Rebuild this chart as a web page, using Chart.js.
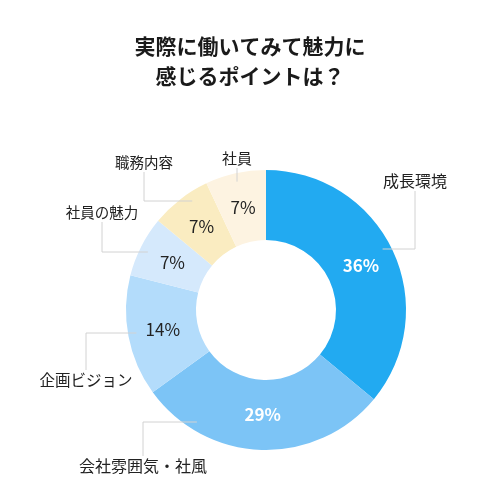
<!DOCTYPE html>
<html lang="ja">
<head>
  <meta charset="UTF-8">
  <script src="https://cdn.jsdelivr.net/npm/chart.js"></script>
  <title>魅力に感じるポイント</title>
  <style>
    body { margin: 0; background: #fff; }
    #wrap { width: 500px; height: 500px; }
  </style>
</head>
<body>
  <div id="wrap"><canvas id="myChart"></canvas></div>
<script>
  const titulo = ['実際に働いてみて魅力に', '感じるポイントは？'];
  const categorias = ['成長環境', '会社雰囲気・社風', '企画ビジョン', '社員の魅力', '職務内容', '社員'];
  const valores = [36, 29, 14, 7, 7, 7];
  const cores = ['#22aaf1', '#7cc4f6', '#b3dcfb', '#d5e9fc', '#faecc1', '#fdf3e1'];
  const corTexto = ['#ffffff', '#ffffff', '#222222', '#222222', '#222222', '#222222'];

  // posição dos rótulos relativa ao centro (tx, ty), altura da linha horizontal (hy) e tamanho da fonte
  const guias = [
    { tx: 149, ty: -129, hy: -61, fs: 16 },
    { tx: -123, ty: 156, hy: 112, fs: 16 },
    { tx: -180, ty: 70, hy: 23, fs: 15.5 },
    { tx: -164, ty: -98, hy: -58, fs: 14.5 },
    { tx: -122, ty: -148, hy: -109, fs: 14.5 },
    { tx: -29, ty: -152, hy: null, fs: 15 }
  ];

  const fonte = '"Noto Sans CJK JP", "Noto Sans", sans-serif';

  const rotulos = {
    id: 'rotulos',
    afterDraw(chart) {
      const ctx = chart.ctx;
      const meta = chart.getDatasetMeta(0);
      const cx = meta.data[0].x;
      const cy = meta.data[0].y;
      const R = meta.data[0].outerRadius;
      const r0 = R * 0.94;

      ctx.save();
      // título
      ctx.fillStyle = '#1a1a1a';
      ctx.textAlign = 'center';
      ctx.textBaseline = 'middle';
      ctx.font = 'bold 21px ' + fonte;
      titulo.forEach((t, i) => ctx.fillText(t, chart.width / 2, 46 + i * 30));

      // linhas guia
      ctx.strokeStyle = '#d2d2d2';
      ctx.lineWidth = 1;
      guias.forEach((g, i) => {
        const lx = cx + g.tx;
        const ly = cy + g.ty;
        const borda = g.ty < (g.hy === null ? 0 : g.hy) ? ly + 10 : ly - 10;
        ctx.beginPath();
        if (g.hy === null) {
          const dx = g.tx;
          const sy = cy - Math.sqrt(r0 * r0 - dx * dx);
          ctx.moveTo(lx, borda);
          ctx.lineTo(lx, sy);
        } else {
          const hy = cy + g.hy;
          const dx = Math.sqrt(r0 * r0 - g.hy * g.hy);
          const sx = g.tx > 0 ? cx + dx : cx - dx;
          ctx.moveTo(sx, hy);
          ctx.lineTo(lx, hy);
          ctx.lineTo(lx, borda);
        }
        ctx.stroke();

        ctx.fillStyle = '#222';
        ctx.font = g.fs + 'px ' + fonte;
        ctx.fillText(categorias[i], lx, ly);
      });

      // percentuais
      meta.data.forEach((arc, i) => {
        const p = arc.tooltipPosition();
        ctx.fillStyle = corTexto[i];
        ctx.font = (i < 2 ? 'bold ' : '') + '17px ' + fonte;
        ctx.fillText(valores[i] + '%', p.x, p.y);
      });
      ctx.restore();
    }
  };

  const rtx = document.getElementById('myChart');
  new Chart(rtx, {
    type: 'doughnut',
    data: {
      labels: categorias,
      datasets: [{
        data: valores,
        backgroundColor: cores,
        borderWidth: 0
      }]
    },
    options: {
      responsive: true,
      maintainAspectRatio: false,
      animation: false,
      cutout: '50%',
      layout: { padding: { left: 126, right: 94, top: 170, bottom: 50 } },
      plugins: {
        legend: { display: false },
        tooltip: { enabled: false },
        title: { display: false }
      }
    },
    plugins: [rotulos]
  });
</script>
</body>
</html>
